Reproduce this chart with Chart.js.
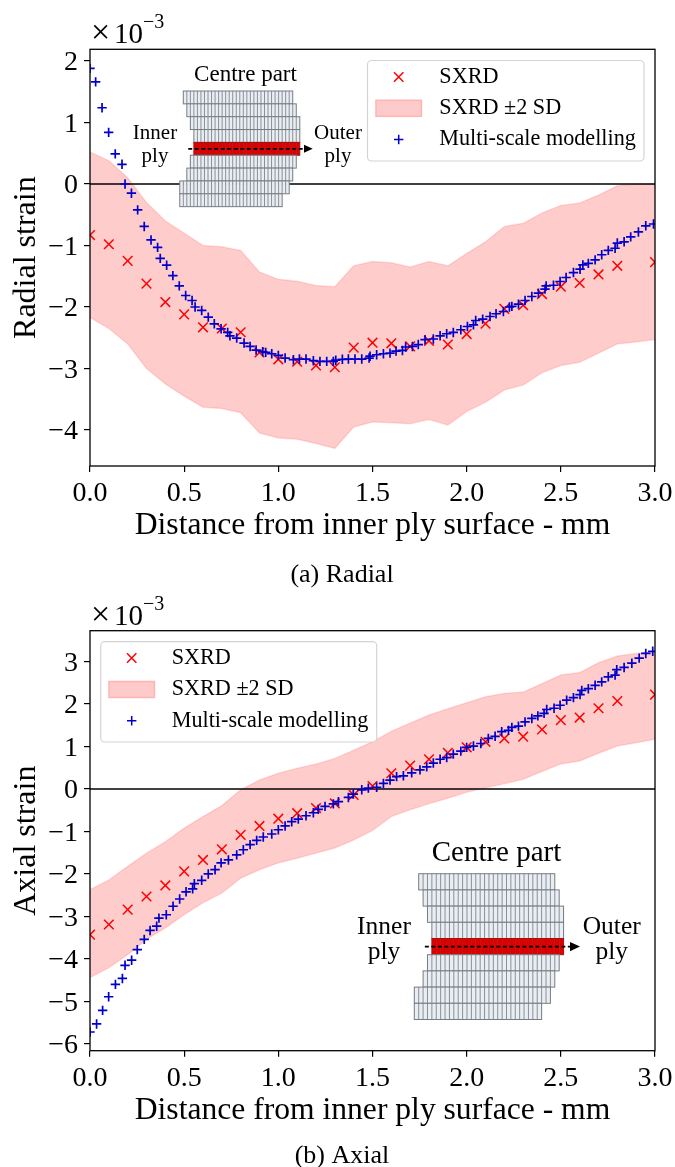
<!DOCTYPE html>
<html>
<head>
<meta charset="utf-8">
<title>Radial and axial strain</title>
<script src="https://cdn.jsdelivr.net/npm/chart.js@4/dist/chart.umd.js"></script>
<style>
    html, body { margin: 0; padding: 0; background: #fff; }
    canvas { display: block; position: absolute; left: 0; }
    #radialChart { top: 0; }
    #axialChart { top: 590px; }
</style>
</head>
<body>
<canvas id="radialChart" width="675" height="590"></canvas>
<canvas id="axialChart" width="675" height="577"></canvas>
<script>
// tick values and labels
const xTicks = [0, 0.5, 1, 1.5, 2, 2.5, 3];
const xTickLabels = ['0.0', '0.5', '1.0', '1.5', '2.0', '2.5', '3.0'];
const radialTicks = [2, 1, 0, -1, -2, -3, -4];
const axialTicks = [3, 2, 1, 0, -1, -2, -3, -4, -5, -6];

// SXRD points (every 0.1 mm, nothing at 2.9)
const sxrdX = [0, 0.1, 0.2, 0.3, 0.4, 0.5, 0.6, 0.7, 0.8, 0.9, 1.0, 1.1, 1.2, 1.3, 1.4, 1.5, 1.6, 1.7, 1.8, 1.9, 2.0, 2.1, 2.2, 2.3, 2.4, 2.5, 2.6, 2.7, 2.8, 3.0];
const sxrdRadial = [-0.83, -0.98, -1.25, -1.62, -1.92, -2.12, -2.33, -2.35, -2.41, -2.74, -2.85, -2.89, -2.95, -2.98, -2.66, -2.58, -2.59, -2.64, -2.55, -2.61, -2.44, -2.27, -2.03, -1.97, -1.79, -1.67, -1.61, -1.47, -1.33, -1.27];
const sxrdAxial = [-3.43, -3.19, -2.84, -2.53, -2.27, -1.94, -1.67, -1.42, -1.08, -0.87, -0.70, -0.57, -0.45, -0.34, -0.14, 0.07, 0.37, 0.55, 0.70, 0.85, 0.98, 1.11, 1.19, 1.23, 1.40, 1.62, 1.68, 1.90, 2.07, 2.22];

// +/- 2 SD band
const bandX = [0, 0.1, 0.2, 0.3, 0.4, 0.5, 0.6, 0.7, 0.8, 0.9, 1.0, 1.1, 1.2, 1.3, 1.4, 1.5, 1.6, 1.7, 1.8, 1.9, 2.0, 2.1, 2.2, 2.3, 2.4, 2.5, 2.6, 2.7, 2.8, 2.9, 3.0];
const radialUpper = [0.52, 0.38, 0.10, -0.30, -0.60, -0.80, -1.00, -1.02, -1.08, -1.43, -1.55, -1.58, -1.65, -1.67, -1.33, -1.26, -1.28, -1.35, -1.26, -1.33, -1.13, -0.94, -0.69, -0.64, -0.47, -0.35, -0.31, -0.18, -0.03, 0.0, 0.0];
const radialLower = [-2.17, -2.35, -2.60, -3.00, -3.25, -3.45, -3.63, -3.65, -3.72, -4.05, -4.13, -4.15, -4.22, -4.30, -3.95, -3.87, -3.88, -3.90, -3.83, -3.92, -3.70, -3.55, -3.35, -3.27, -3.07, -2.95, -2.90, -2.75, -2.60, -2.57, -2.53];
const axialUpper = [-2.37, -2.14, -1.82, -1.51, -1.24, -0.92, -0.65, -0.39, -0.02, 0.21, 0.37, 0.49, 0.59, 0.72, 0.91, 1.11, 1.36, 1.55, 1.74, 1.89, 2.03, 2.17, 2.25, 2.28, 2.48, 2.68, 2.74, 2.97, 3.13, 3.19, 3.24];
const axialLower = [-4.44, -4.21, -3.90, -3.54, -3.27, -2.96, -2.68, -2.45, -2.10, -1.90, -1.74, -1.63, -1.51, -1.39, -1.20, -0.98, -0.65, -0.49, -0.35, -0.22, -0.08, 0.03, 0.12, 0.23, 0.41, 0.59, 0.66, 0.84, 1.01, 1.09, 1.17];

// multi-scale modelling points
const modelRadialX = [0, 0.03, 0.064, 0.099, 0.134, 0.17, 0.186, 0.22, 0.253, 0.288, 0.324, 0.359, 0.373, 0.407, 0.44, 0.474, 0.508, 0.542, 0.558, 0.593, 0.628, 0.66, 0.696, 0.731, 0.743, 0.779, 0.818, 0.85, 0.882, 0.917, 0.933, 0.965, 1.0, 1.036, 1.08, 1.112, 1.147, 1.186, 1.221, 1.257, 1.292, 1.305, 1.34, 1.372, 1.407, 1.443, 1.482, 1.487, 1.522, 1.558, 1.593, 1.625, 1.659, 1.676, 1.712, 1.743, 1.779, 1.823, 1.859, 1.894, 1.929, 1.969, 2.004, 2.036, 2.048, 2.085, 2.124, 2.156, 2.195, 2.227, 2.24, 2.275, 2.31, 2.346, 2.381, 2.416, 2.422, 2.461, 2.496, 2.528, 2.567, 2.602, 2.617, 2.646, 2.682, 2.717, 2.752, 2.788, 2.8, 2.836, 2.871, 2.912, 2.951, 2.992];
const modelRadialY = [1.88, 1.66, 1.24, 0.84, 0.49, 0.32, 0, -0.15, -0.42, -0.69, -0.91, -1.03, -1.21, -1.32, -1.49, -1.656, -1.813, -1.894, -2.0, -2.056, -2.165, -2.273, -2.354, -2.414, -2.468, -2.505, -2.586, -2.641, -2.70, -2.727, -2.738, -2.76, -2.787, -2.83, -2.857, -2.846, -2.846, -2.873, -2.884, -2.884, -2.884, -2.865, -2.85, -2.846, -2.846, -2.846, -2.83, -2.80, -2.776, -2.76, -2.75, -2.716, -2.706, -2.65, -2.641, -2.61, -2.53, -2.52, -2.468, -2.435, -2.414, -2.37, -2.317, -2.289, -2.219, -2.197, -2.154, -2.11, -2.073, -2.0, -1.99, -1.953, -1.894, -1.829, -1.775, -1.71, -1.656, -1.646, -1.585, -1.52, -1.44, -1.385, -1.315, -1.29, -1.234, -1.15, -1.08, -1.045, -0.96, -0.94, -0.86, -0.78, -0.68, -0.65];
const modelAxialX = [0, 0.035, 0.067, 0.099, 0.135, 0.172, 0.186, 0.221, 0.251, 0.288, 0.319, 0.354, 0.366, 0.405, 0.441, 0.476, 0.51, 0.545, 0.554, 0.593, 0.628, 0.664, 0.696, 0.735, 0.779, 0.814, 0.85, 0.885, 0.92, 0.965, 1.0, 1.036, 1.071, 1.106, 1.147, 1.186, 1.212, 1.248, 1.292, 1.319, 1.372, 1.398, 1.443, 1.478, 1.522, 1.558, 1.593, 1.628, 1.664, 1.708, 1.752, 1.788, 1.823, 1.859, 1.894, 1.929, 1.969, 2.0, 2.036, 2.075, 2.115, 2.151, 2.186, 2.222, 2.24, 2.275, 2.31, 2.346, 2.378, 2.411, 2.425, 2.464, 2.496, 2.531, 2.567, 2.602, 2.611, 2.646, 2.682, 2.717, 2.752, 2.788, 2.797, 2.836, 2.877, 2.916, 2.951, 2.988];
const modelAxialY = [-5.72, -5.53, -5.21, -4.89, -4.60, -4.46, -4.15, -4.03, -3.78, -3.54, -3.33, -3.23, -3.04, -2.96, -2.76, -2.59, -2.42, -2.35, -2.23, -2.15, -2.0, -1.90, -1.74, -1.67, -1.55, -1.43, -1.31, -1.21, -1.13, -1.06, -0.96, -0.87, -0.77, -0.71, -0.63, -0.56, -0.48, -0.41, -0.35, -0.30, -0.20, -0.12, -0.02, 0.02, 0.04, 0.13, 0.21, 0.29, 0.31, 0.38, 0.45, 0.52, 0.61, 0.70, 0.74, 0.82, 0.89, 0.98, 1.01, 1.07, 1.19, 1.24, 1.35, 1.38, 1.45, 1.48, 1.58, 1.66, 1.72, 1.78, 1.87, 1.90, 1.97, 2.09, 2.15, 2.22, 2.32, 2.36, 2.44, 2.52, 2.64, 2.68, 2.81, 2.86, 2.96, 3.08, 3.19, 3.24];

const zeroX = [0, 3];
const zeroY = [0, 0];

const SERIF = '"Liberation Serif", "Times New Roman", serif';
const RED = '#ff0000';
const BLUE = '#0000cc';
const BAND_FILL = 'rgba(255, 0, 0, 0.2)';
const BAND_EDGE = 'rgba(255, 0, 0, 0.12)';

// centre-part sketch: [first cell, last cell] of each ply row, top to bottom
const insetRows = [[0, 31], [1, 32], [2, 33], [3, 33], [3, 33], [2, 32], [1, 31], [-1, 30], [-1, 28]];
const insetRedRow = 4;

function toPoints(xs, ys) {
    return xs.map((x, i) => ({ x: x, y: ys[i] }));
}

function drawInset(ctx, o) {
    insetRows.forEach((row, r) => {
        const y = o.y + r * o.rowH;
        const isRed = r === insetRedRow;
        for (let c = row[0]; c < row[1]; c++) {
            ctx.fillStyle = isRed ? '#e00000' : '#e8eef4';
            ctx.fillRect(o.x + c * o.cellW, y, o.cellW, o.rowH);
        }
        ctx.lineWidth = 0.9;
        ctx.strokeStyle = isRed ? '#a81010' : '#7f8489';
        ctx.beginPath();
        for (let c = row[0] + 1; c < row[1]; c++) {
            ctx.moveTo(o.x + c * o.cellW, y);
            ctx.lineTo(o.x + c * o.cellW, y + o.rowH);
        }
        ctx.stroke();
        ctx.lineWidth = 1;
        ctx.strokeStyle = isRed ? '#a81010' : '#777c80';
        ctx.strokeRect(o.x + row[0] * o.cellW, y, (row[1] - row[0]) * o.cellW, o.rowH);
    });

    // dashed arrow through the red row
    const midY = o.y + (insetRedRow + 0.5) * o.rowH;
    ctx.strokeStyle = '#000';
    ctx.lineWidth = 1.6;
    ctx.setLineDash([4, 2.5]);
    ctx.beginPath();
    ctx.moveTo(o.x + 1.4 * o.cellW, midY);
    ctx.lineTo(o.arrowX, midY);
    ctx.stroke();
    ctx.setLineDash([]);
    ctx.fillStyle = '#000';
    ctx.beginPath();
    ctx.moveTo(o.arrowX, midY - o.headH);
    ctx.lineTo(o.arrowX + o.headW, midY);
    ctx.lineTo(o.arrowX, midY + o.headH);
    ctx.closePath();
    ctx.fill();

    ctx.textAlign = 'center';
    ctx.textBaseline = 'alphabetic';
    ctx.font = o.titleSize + 'px ' + SERIF;
    ctx.fillText('Centre part', o.titleX, o.titleY);
    ctx.font = o.labelSize + 'px ' + SERIF;
    ctx.fillText('Inner', o.innerX, o.labelY);
    ctx.fillText('ply', o.innerX, o.labelY + o.labelGap);
    ctx.fillText('Outer', o.outerX, o.labelY);
    ctx.fillText('ply', o.outerX, o.labelY + o.labelGap);
}

function drawLegend(ctx, o) {
    ctx.fillStyle = 'rgba(255, 255, 255, 0.8)';
    ctx.strokeStyle = '#d4d4d4';
    ctx.lineWidth = 1.2;
    ctx.beginPath();
    ctx.roundRect(o.x, o.y, o.w, o.h, 4);
    ctx.fill();
    ctx.stroke();

    // red x
    ctx.strokeStyle = RED;
    ctx.lineWidth = 1.5;
    ctx.beginPath();
    ctx.moveTo(o.markX - 4.7, o.rows[0] - 4.7);
    ctx.lineTo(o.markX + 4.7, o.rows[0] + 4.7);
    ctx.moveTo(o.markX + 4.7, o.rows[0] - 4.7);
    ctx.lineTo(o.markX - 4.7, o.rows[0] + 4.7);
    ctx.stroke();

    // band swatch
    ctx.fillStyle = '#ffcaca';
    ctx.strokeStyle = '#ffb4b4';
    ctx.fillRect(o.markX - 22.7, o.rows[1] - 8, 45.4, 16);
    ctx.strokeRect(o.markX - 22.7, o.rows[1] - 8, 45.4, 16);

    // blue +
    ctx.strokeStyle = BLUE;
    ctx.beginPath();
    ctx.moveTo(o.markX - 4.7, o.rows[2]);
    ctx.lineTo(o.markX + 4.7, o.rows[2]);
    ctx.moveTo(o.markX, o.rows[2] - 4.7);
    ctx.lineTo(o.markX, o.rows[2] + 4.7);
    ctx.stroke();

    ctx.fillStyle = '#000';
    ctx.font = o.fontSize + 'px ' + SERIF;
    ctx.textAlign = 'left';
    ctx.textBaseline = 'middle';
    ctx.fillText('SXRD', o.textX, o.rows[0]);
    ctx.fillText('SXRD \u00b12 SD', o.textX, o.rows[1]);
    ctx.fillText('Multi-scale modelling', o.textX, o.rows[2]);
}

// frame, offset text, sketch, legend and caption of one panel
const panelPlugin = {
    id: 'panelDecor',
    afterDatasetsDraw(chart, args, opts) {
        const ctx = chart.ctx;
        const a = chart.chartArea;
        ctx.save();
        drawInset(ctx, opts.inset);
        drawLegend(ctx, opts.legendBox);

        ctx.strokeStyle = '#000';
        ctx.lineWidth = 1.3;
        ctx.strokeRect(a.left, a.top, a.right - a.left, a.bottom - a.top);

        ctx.fillStyle = '#000';
        ctx.textAlign = 'left';
        ctx.textBaseline = 'alphabetic';
        ctx.font = '34px ' + SERIF;
        ctx.fillText('\u00d7', 91, a.top - 6);
        ctx.font = '29px ' + SERIF;
        ctx.fillText('10', 114, a.top - 6);
        ctx.font = '20px ' + SERIF;
        ctx.fillText('\u22123', 143, a.top - 21);

        ctx.font = '26px ' + SERIF;
        ctx.textAlign = 'center';
        ctx.fillText(opts.caption, opts.captionX, opts.captionY);
        ctx.restore();
    }
};

function buildChart(id, p) {
    const ctx = document.getElementById(id);
    return new Chart(ctx, {
        type: 'scatter',
        data: {
            datasets: [
                {
                    label: 'Multi-scale modelling',
                    data: toPoints(p.modelX, p.modelY),
                    pointStyle: 'cross',
                    pointRadius: 4.7,
                    pointBorderWidth: 1.7,
                    pointBorderColor: BLUE,
                    showLine: false,
                    clip: 0
                },
                {
                    label: 'SXRD',
                    data: toPoints(sxrdX, p.sxrd),
                    pointStyle: 'crossRot',
                    pointRadius: 6.8,
                    pointBorderWidth: 1.5,
                    pointBorderColor: RED,
                    showLine: false,
                    clip: 0
                },
                {
                    label: 'zero',
                    data: toPoints(zeroX, zeroY),
                    showLine: true,
                    pointRadius: 0,
                    borderColor: '#000',
                    borderWidth: 1.5,
                    clip: 0
                },
                {
                    label: 'SXRD \u00b12 SD',
                    data: toPoints(bandX, p.upper),
                    showLine: true,
                    pointRadius: 0,
                    borderColor: BAND_EDGE,
                    borderWidth: 1.5,
                    backgroundColor: BAND_FILL,
                    fill: '+1',
                    tension: 0,
                    clip: 0
                },
                {
                    label: 'lower',
                    data: toPoints(bandX, p.lower),
                    showLine: true,
                    pointRadius: 0,
                    borderColor: BAND_EDGE,
                    borderWidth: 1.5,
                    fill: false,
                    tension: 0,
                    clip: 0
                }
            ]
        },
        options: {
            responsive: false,
            animation: false,
            events: [],
            layout: {
                padding: { top: p.top, right: 20, bottom: 0, left: 0 }
            },
            plugins: {
                legend: { display: false },
                tooltip: { enabled: false },
                panelDecor: p.decor
            },
            scales: {
                x: {
                    type: 'linear',
                    min: 0,
                    max: 3,
                    afterBuildTicks: scale => { scale.ticks = xTicks.map(v => ({ value: v })); },
                    afterFit: scale => {
                        scale.height = p.xHeight;
                        scale.paddingLeft = scale.paddingRight = 0;
                    },
                    grid: { drawOnChartArea: false, color: '#000', tickLength: 6, lineWidth: 1.2 },
                    border: { display: false },
                    ticks: {
                        color: '#000',
                        maxRotation: 0,
                        autoSkip: false,
                        padding: 5,
                        font: { family: SERIF, size: 28 },
                        callback: (value, i) => xTickLabels[i]
                    },
                    title: {
                        display: true,
                        text: 'Distance from inner ply surface - mm',
                        color: '#000',
                        font: { family: SERIF, size: 31.6 },
                        padding: { top: 0, bottom: p.xTitleGap }
                    }
                },
                y: {
                    type: 'linear',
                    min: p.yMin,
                    max: p.yMax,
                    afterBuildTicks: scale => { scale.ticks = p.yTicks.map(v => ({ value: v })); },
                    afterFit: scale => {
                        scale.width = 90;
                        scale.paddingTop = scale.paddingBottom = 0;
                    },
                    grid: { drawOnChartArea: false, color: '#000', tickLength: 6, lineWidth: 1.2 },
                    border: { display: false },
                    ticks: {
                        color: '#000',
                        autoSkip: false,
                        padding: 6,
                        labelOffset: 2,
                        font: { family: SERIF, size: 28 },
                        callback: value => (value < 0 ? '\u2212' + Math.abs(value) : String(value))
                    },
                    title: {
                        display: true,
                        text: p.yTitle,
                        color: '#000',
                        font: { family: SERIF, size: 32 },
                        padding: { top: 7, bottom: 0 }
                    }
                }
            }
        },
        plugins: [panelPlugin]
    });
}

buildChart('radialChart', {
    sxrd: sxrdRadial, upper: radialUpper, lower: radialLower,
    modelX: modelRadialX, modelY: modelRadialY,
    yTicks: radialTicks, yMin: -4.585, yMax: 2.19,
    yTitle: 'Radial strain',
    top: 49.3, xHeight: 124, xTitleGap: 45,
    decor: {
        caption: '(a) Radial', captionX: 342, captionY: 582,
        legendBox: { x: 367.5, y: 60.5, w: 276.5, h: 100.5, markX: 398.7, rows: [77, 108.3, 139.5], textX: 439.3, fontSize: 22.2 },
        inset: {
            x: 183.3, y: 91, cellW: 3.53, rowH: 12.85, arrowX: 304, headW: 8.7, headH: 4,
            titleSize: 23, titleX: 245.5, titleY: 81,
            labelSize: 21, innerX: 155, outerX: 338, labelY: 139, labelGap: 23
        }
    }
});

buildChart('axialChart', {
    sxrd: sxrdAxial, upper: axialUpper, lower: axialLower,
    modelX: modelAxialX, modelY: modelAxialY,
    yTicks: axialTicks, yMin: -6.16, yMax: 3.725,
    yTitle: 'Axial strain',
    top: 40.7, xHeight: 116.3, xTitleGap: 37,
    decor: {
        caption: '(b) Axial', captionX: 342, captionY: 573,
        legendBox: { x: 100.7, y: 51.7, w: 276, h: 100.3, markX: 131.7, rows: [68, 99.5, 130.7], textX: 171.7, fontSize: 22.2 },
        inset: {
            x: 418.7, y: 283.7, cellW: 4.39, rowH: 16.2, arrowX: 570, headW: 10, headH: 4.7,
            titleSize: 29, titleX: 496.5, titleY: 270.7,
            labelSize: 25.5, innerX: 384, outerX: 611.7, labelY: 344, labelGap: 25
        }
    }
});
</script>
</body>
</html>
